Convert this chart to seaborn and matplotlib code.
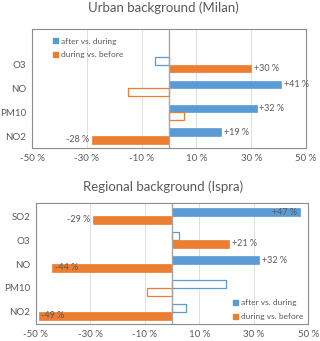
import pandas as pd
import matplotlib
matplotlib.use("Agg")
import matplotlib.pyplot as plt
from matplotlib.patches import Patch
import seaborn as sns

# change in concentration, %
milan_cats = ["O3", "NO", "PM10", "NO2"]
milan_after = [-5, 41, 32, 19]
milan_during = [30, -15, 5.5, -28]
milan_after_sig = [False, True, True, True]
milan_during_sig = [True, False, False, True]

ispra_cats = ["SO2", "O3", "NO", "PM10", "NO2"]
ispra_after = [47, 2.5, 32, 20, 5]
ispra_during = [-29, 21, -44, -9, -49]
ispra_after_sig = [True, False, True, False, False]
ispra_during_sig = [True, True, True, False, True]

series = ["after vs. during", "during vs. before"]
colors = ["#5B9BD5", "#ED7D31"]
xticks = [-50, -30, -10, 10, 30, 50]
grey = "#595959"

sns.set_style("white")
plt.rcParams["font.family"] = ["Lato", "DejaVu Sans"]


def draw(ax, cats, after, during, after_sig, during_sig, ylim, legend_loc, legend_anchor):
    df = pd.DataFrame({
        "pollutant": cats * 2,
        "change": after + during,
        "period": [series[0]] * len(cats) + [series[1]] * len(cats),
    })
    sns.barplot(data=df, x="change", y="pollutant", hue="period", order=cats,
                hue_order=series, palette=colors, width=0.64, saturation=1,
                orient="h", legend=False, ax=ax)
    for cont, vals, sig, col in zip(ax.containers, [after, during],
                                    [after_sig, during_sig], colors):
        for bar, v, s in zip(cont, vals, sig):
            if s:
                bar.set_facecolor(col)
                bar.set_edgecolor(col)
                bar.set_linewidth(0.5)
                y = bar.get_y() + bar.get_height() / 2
                txt = f"{v:+.0f} %"
                if abs(v) > 42:
                    x = v - 1 if v > 0 else v + 1
                    ha = "right" if v > 0 else "left"
                else:
                    x = v + 1 if v > 0 else v - 1
                    ha = "left" if v > 0 else "right"
                ax.text(x, y, txt, ha=ha, va="center", fontsize=6.5, color=grey)
            else:
                bar.set_facecolor("white")
                bar.set_edgecolor(col)
                bar.set_linewidth(0.9)
    ax.axvline(0, color="#a6a6a6", lw=1, zorder=1)
    ax.set_xlim(-50, 50)
    ax.set_ylim(*ylim)
    ax.set_xticks(xticks)
    ax.set_xticklabels([f"{t} %" for t in xticks])
    ax.xaxis.grid(True, color="#e0e0e0", lw=0.7)
    ax.set_axisbelow(True)
    ax.set_xlabel("")
    ax.set_ylabel("")
    ax.tick_params(length=0, labelsize=7, colors=grey, pad=4)
    for sp in ax.spines.values():
        sp.set_visible(True)
        sp.set_color("#8c8c8c")
        sp.set_linewidth(0.8)
    handles = [Patch(facecolor=c, edgecolor=c) for c in colors]
    ax.legend(handles, series, loc=legend_loc, bbox_to_anchor=legend_anchor,
              frameon=False, fontsize=6, labelcolor=grey, handlelength=0.6,
              handleheight=0.6, handletextpad=0.3, labelspacing=0.8,
              borderaxespad=0.2)


fig = plt.figure(figsize=(3.2, 3.41), dpi=100)
ax1 = fig.add_axes([0.100, 0.566, 0.856, 0.349])
ax2 = fig.add_axes([0.112, 0.050, 0.851, 0.355])

draw(ax1, milan_cats, milan_after, milan_during, milan_after_sig, milan_during_sig,
     (3.5, -1.5), "upper left", (0.06, 0.97))
draw(ax2, ispra_cats, ispra_after, ispra_during, ispra_after_sig, ispra_during_sig,
     (4.5, -0.55), "lower right", (1.0, -0.01))

fig.text(0.51, 0.977, "Urban background (Milan)", ha="center", va="center",
         fontsize=9.5, color=grey)
fig.text(0.51, 0.452, "Regional background (Ispra)", ha="center", va="center",
         fontsize=9.5, color=grey)

fig.savefig("out.png", dpi=100)
